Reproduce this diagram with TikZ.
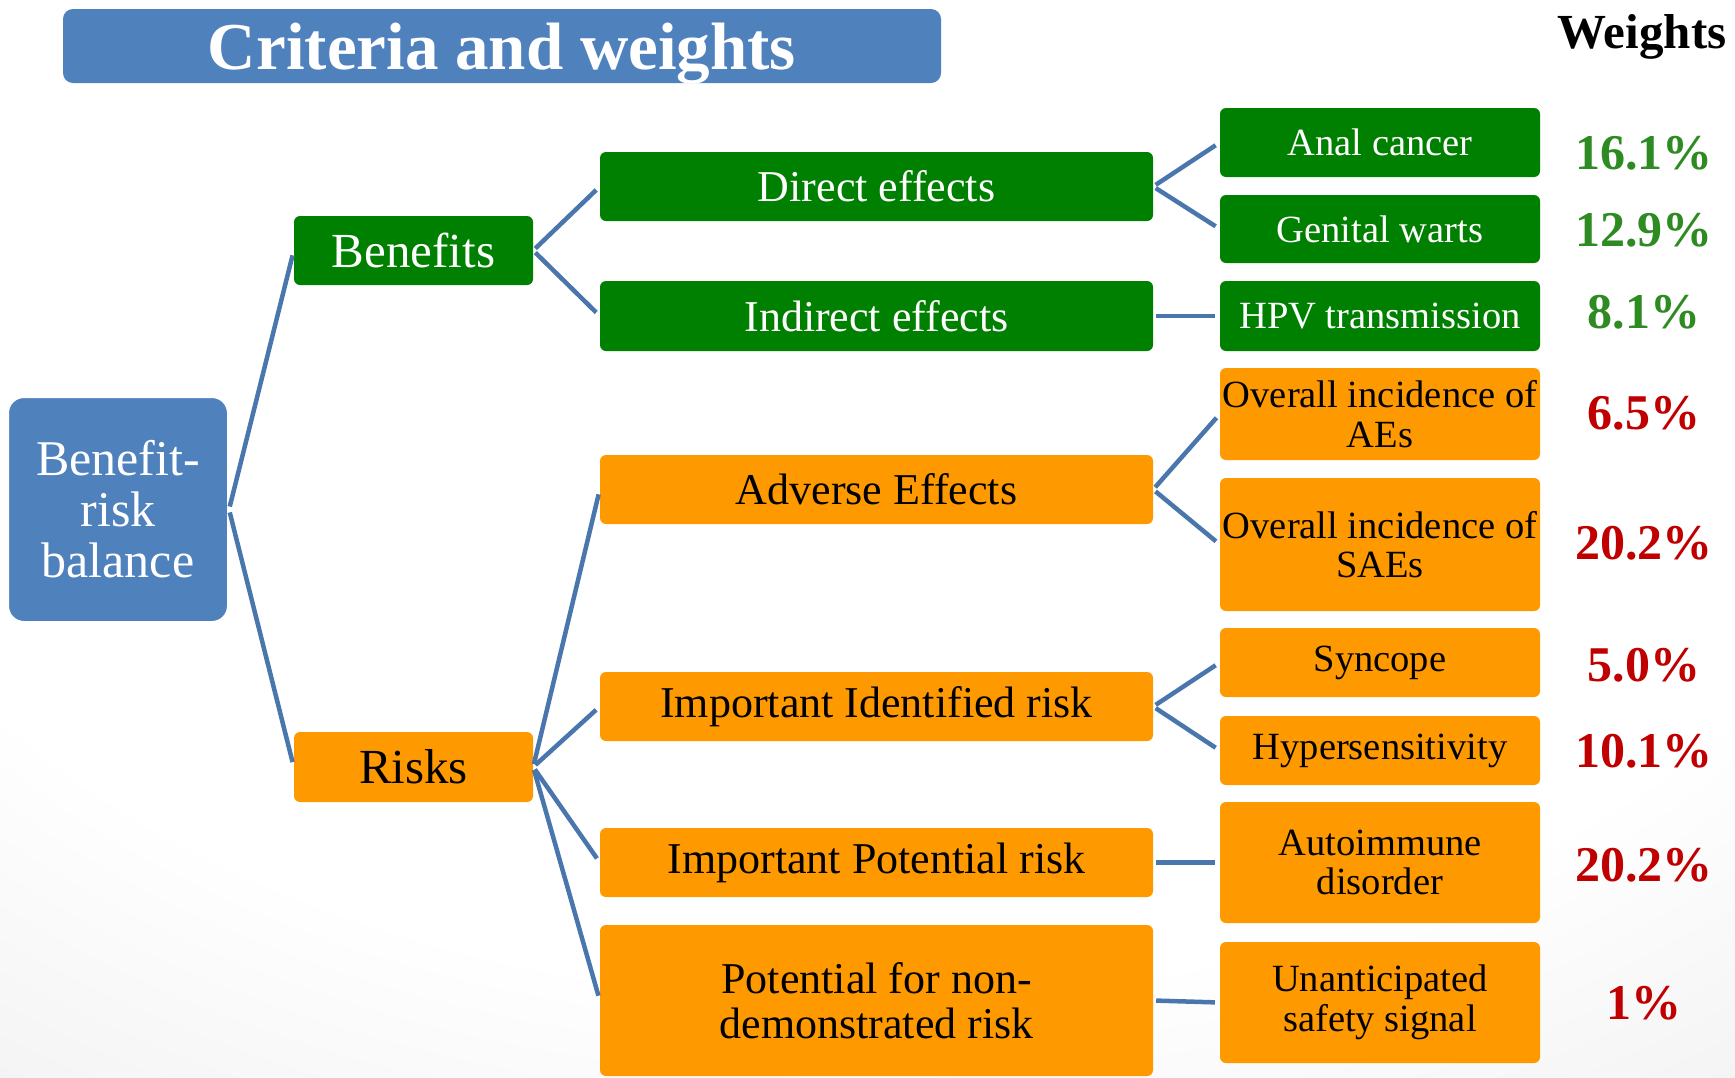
\documentclass[tikz,border=0pt]{standalone}
\usepackage{fontspec}
\setmainfont{Liberation Serif}
\definecolor{cblue}{HTML}{4F81BD}
\definecolor{cgreen}{HTML}{008000}
\definecolor{corange}{HTML}{FF9900}
\definecolor{cline}{HTML}{4A76AE}
\definecolor{wgreen}{HTML}{2E8B22}
\definecolor{wred}{HTML}{C00000}
\pgfdeclareradialshading{bgshade}{\pgfpoint{0bp}{15bp}}{color(0bp)=(white); color(30bp)=(white); color(62bp)=(black!13); color(75bp)=(black!18)}
\tikzset{
  box/.style={rounded corners=6pt, inner sep=0pt, align=center},
  gbox/.style={box, fill=cgreen, text=white},
  obox/.style={box, fill=corange, text=black},
  midbox/.style={minimum width=553pt, font=\fontsize{44}{45}\selectfont},
  rbox/.style={minimum width=320pt, font=\fontsize{38.5}{39.5}\selectfont},
  topbox/.style={minimum width=239pt, minimum height=69pt, font=\fontsize{49}{50}\selectfont},
  conn/.style={draw=cline, line width=4.5pt, shorten <=3pt, shorten >=5pt},
  wlab/.style={anchor=base, inner sep=0pt, font=\bfseries\fontsize{50}{50}\selectfont},
}
\begin{document}
\begin{tikzpicture}[x=1pt,y=-1pt]
\useasboundingbox (0,0) rectangle (1735,1077);
\shade[shading=bgshade] (0,0) rectangle (1735,1077);

% title
\node[box, rounded corners=10pt, fill=cblue, text=white, minimum width=878pt, minimum height=74pt,
  text depth=0pt, font=\bfseries\fontsize{67}{67}\selectfont] (title) at (502,46) {Criteria and weights};
\node[anchor=base, inner sep=0pt, font=\bfseries\fontsize{49}{49}\selectfont] (wh) at (1642,48) {Weights};

% root
\node[box, rounded corners=16pt, fill=cblue, text=white, draw=white, line width=2pt,
  minimum width=220pt, minimum height=225pt, font=\fontsize{50}{51}\selectfont] (brb) at (118,509.5) {Benefit-\\risk\\balance};

% level 1
\node[gbox, topbox] (ben) at (413.5,250.5) {Benefits};
\node[obox, topbox, minimum height=70pt] (risk) at (413.5,767) {Risks};

% level 2
\node[gbox, midbox, minimum height=69pt] (direct) at (876.5,186.5) {Direct effects};
\node[gbox, midbox, minimum height=70pt] (indirect) at (876.5,316) {Indirect effects};
\node[obox, midbox, minimum height=69pt] (adverse) at (876.5,489.5) {Adverse Effects};
\node[obox, midbox, minimum height=69pt] (ident) at (876.5,706.5) {Important Identified risk};
\node[obox, midbox, minimum height=69pt] (potent) at (876.5,862.5) {Important Potential risk};
\node[obox, midbox, minimum height=151pt] (nondem) at (876.5,1000.5) {Potential for non-\\demonstrated risk};

% level 3
\node[gbox, rbox, minimum height=69pt] (anal) at (1380,142.5) {Anal cancer};
\node[gbox, rbox, minimum height=68pt] (genital) at (1380,229) {Genital warts};
\node[gbox, rbox, minimum height=70pt] (hpv) at (1380,316) {HPV transmission};
\node[obox, rbox, minimum height=92pt] (aes) at (1380,414) {Overall incidence of\\AEs};
\node[obox, rbox, minimum height=133pt] (saes) at (1380,544.5) {Overall incidence of\\SAEs};
\node[obox, rbox, minimum height=69pt] (sync) at (1380,662.5) {Syncope};
\node[obox, rbox, minimum height=69pt] (hyper) at (1380,750.5) {Hypersensitivity};
\node[obox, rbox, minimum height=121pt] (auto) at (1380,862.5) {Autoimmune\\disorder};
\node[obox, rbox, minimum height=121pt] (unant) at (1380,1002.5) {Unanticipated\\safety signal};

% weights
\node[wlab, text=wgreen] (w1) at (1644,169) {16.1\%};
\node[wlab, text=wgreen] (w2) at (1644,246) {12.9\%};
\node[wlab, text=wgreen] (w3) at (1644,328) {8.1\%};
\node[wlab, text=wred] (w4) at (1644,429) {6.5\%};
\node[wlab, text=wred] (w5) at (1644,559) {20.2\%};
\node[wlab, text=wred] (w6) at (1644,681) {5.0\%};
\node[wlab, text=wred] (w7) at (1644,767) {10.1\%};
\node[wlab, text=wred] (w8) at (1644,881) {20.2\%};
\node[wlab, text=wred] (w9) at (1644,1019) {1\%};

% connectors
\draw[conn] (brb.east) -- (ben.west);
\draw[conn] (brb.east) -- (risk.west);
\draw[conn] (ben.east) -- (direct.west);
\draw[conn] (ben.east) -- (indirect.west);
\draw[conn] (risk.east) -- (adverse.west);
\draw[conn] (risk.east) -- (ident.west);
\draw[conn] (risk.east) -- (potent.west);
\draw[conn] (risk.east) -- (nondem.west);
\draw[conn] (direct.east) -- (anal.west);
\draw[conn] (direct.east) -- (genital.west);
\draw[conn] (indirect.east) -- (hpv.west);
\draw[conn] (adverse.east) -- (aes.west);
\draw[conn] (adverse.east) -- (saes.west);
\draw[conn] (ident.east) -- (sync.west);
\draw[conn] (ident.east) -- (hyper.west);
\draw[conn] (potent.east) -- (auto.west);
\draw[conn] (nondem.east) -- (unant.west);
\end{tikzpicture}
\end{document}
